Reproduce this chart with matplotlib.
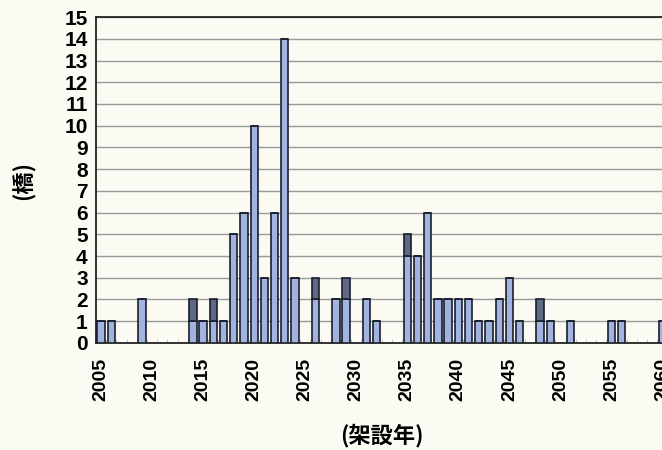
import matplotlib
matplotlib.use("Agg")
import matplotlib.pyplot as plt
from matplotlib.ticker import MultipleLocator

plt.rcParams['font.family'] = ['Liberation Sans', 'Noto Sans CJK JP', 'DejaVu Sans']

# bridges per construction year (light = main series, dark = stacked part)
years = [2005, 2006, 2009, 2014, 2015, 2016, 2017, 2018, 2019, 2020,
         2021, 2022, 2023, 2024, 2026, 2028, 2029, 2031, 2032, 2035,
         2036, 2037, 2038, 2039, 2040, 2041, 2042, 2043, 2044, 2045,
         2046, 2048, 2049, 2051, 2055, 2056, 2060]
light = [1, 1, 2, 1, 1, 1, 1, 5, 6, 10,
         3, 6, 14, 3, 2, 2, 2, 2, 1, 4,
         4, 6, 2, 2, 2, 2, 1, 1, 2, 3,
         1, 1, 1, 1, 1, 1, 1]
dark = [0, 0, 0, 1, 0, 1, 0, 0, 0, 0,
        0, 0, 0, 0, 1, 0, 1, 0, 0, 1,
        0, 0, 0, 0, 0, 0, 0, 0, 0, 0,
        0, 1, 0, 0, 0, 0, 0]
xticks = list(range(2005, 2061, 5))

bg = '#fbfaf3'
fig = plt.figure(figsize=(6.62, 4.5), dpi=100, facecolor=bg)
ax = fig.add_axes([0.145, 0.238, 0.865, 0.724])
ax.set_facecolor(bg)

ax.bar(years, light, width=0.72, color='#a3b3df', edgecolor='#1a1f2e', linewidth=1.2, zorder=3)
ax.bar(years, dark, width=0.72, bottom=light, color='#5e6a84', edgecolor='#1a1f2e',
       linewidth=1.2, zorder=3)

ax.set_xlim(2004.6, 2060.6)
ax.set_ylim(0, 15)
ax.yaxis.set_major_locator(MultipleLocator(1))
ax.set_xticks(xticks)
ax.set_xticklabels([str(y) for y in xticks], rotation=90, fontsize=14, fontweight='bold')
for t in ax.get_yticklabels():
    t.set_fontsize(15)
    t.set_fontweight('bold')
ax.tick_params(axis='y', length=0, pad=6)
ax.tick_params(axis='x', length=0, pad=11)
ax.set_xticks([y + 0.5 for y in range(2004, 2061)], minor=True)
ax.tick_params(axis='x', which='minor', direction='in', length=3, color='#bbbbbb')

ax.grid(axis='y', color='#9a9a9a', linewidth=1, zorder=0)
for side in ['left', 'top', 'bottom']:
    ax.spines[side].set_color('#222222')
    ax.spines[side].set_linewidth(1.3)
ax.spines['right'].set_visible(False)

ax.set_ylabel('(橋)', fontsize=16, fontweight='bold', family=['Noto Sans CJK JP'])
ax.yaxis.set_label_coords(-0.105, 0.5)
ax.set_xlabel('(架設年)', fontsize=16, fontweight='bold', family=['Noto Sans CJK JP'], labelpad=16)

fig.savefig('out.png', dpi=100, facecolor=bg)
